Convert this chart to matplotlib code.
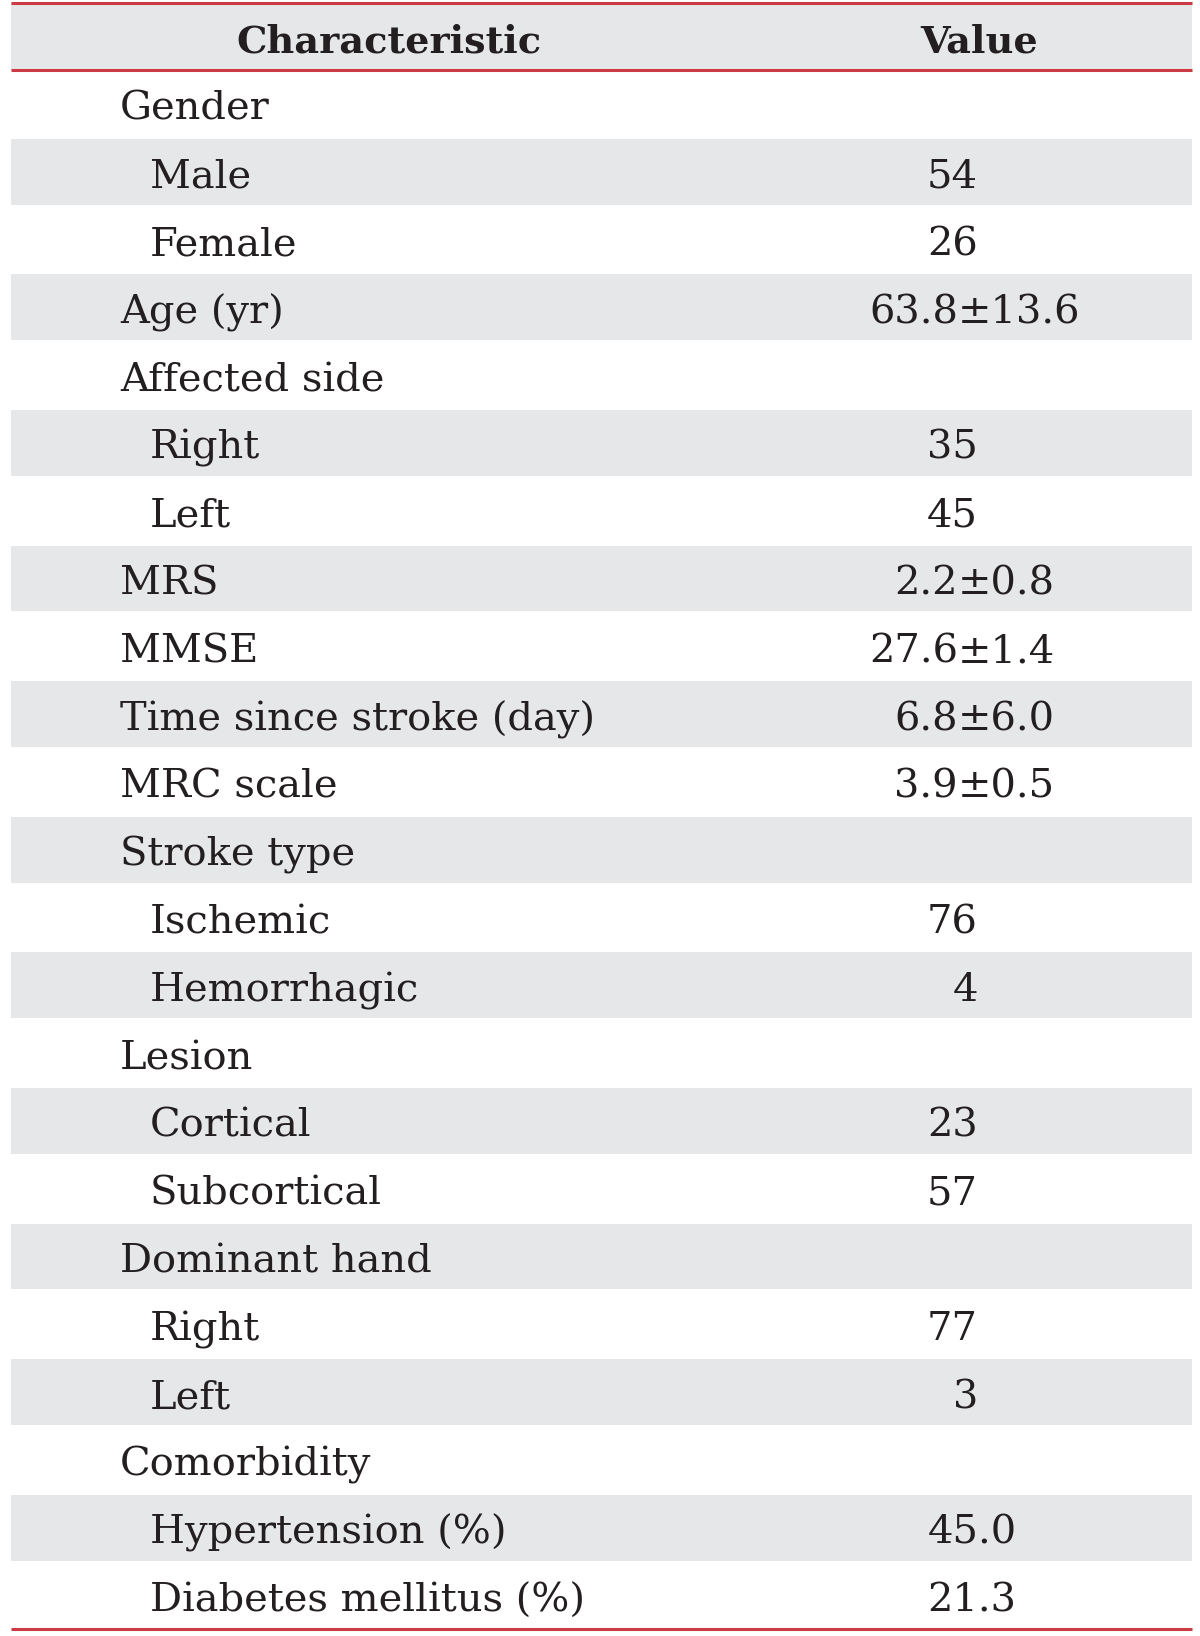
#!/usr/bin/env python3

import matplotlib
matplotlib.use('Agg')
import matplotlib.pyplot as plt
from matplotlib.patches import Rectangle

# table content
headers = ['Characteristic', 'Value']

labels = [
	'Gender', 'Male', 'Female', 'Age (yr)', 'Affected side', 'Right', 'Left',
	'MRS', 'MMSE', 'Time since stroke (day)', 'MRC scale', 'Stroke type',
	'Ischemic', 'Hemorrhagic', 'Lesion', 'Cortical', 'Subcortical',
	'Dominant hand', 'Right', 'Left', 'Comorbidity', 'Hypertension (%)',
	'Diabetes mellitus (%)',
]

# 0 = group heading, 1 = sub item
indent = [0, 1, 1, 0, 0, 1, 1, 0, 0, 0, 0, 0, 1, 1, 0, 1, 1, 0, 1, 1, 0, 1, 1]

values = [
	'', '54', '26', '63.8±13.6', '', '35', '45', '2.2±0.8', '27.6±1.4',
	'6.8±6.0', '3.9±0.5', '', '76', '4', '', '23', '57', '', '77', '3', '',
	'45.0', '21.3',
]

W, H = 1200, 1636
left, right = 11, 1192
top, head_bottom = 3, 70
row_h = 67.8

gray = '#e6e7e8'
red = '#cc3a44'
ink = '#231f20'
font = 'DejaVu Serif'
fsize = 28.8
hsize = 27.5

fig = plt.figure(figsize=(W / 100, H / 100), dpi=100)
ax = fig.add_axes([0, 0, 1, 1])
ax.set_xlim(0, W)
ax.set_ylim(H, 0)
ax.axis('off')

# header band
ax.add_patch(Rectangle((left, top), right - left, head_bottom - top, facecolor=gray, edgecolor='none'))
base = top + 0.74 * (head_bottom - top)
ax.text(389, base, headers[0], ha='center', va='baseline', fontsize=hsize, fontweight='bold', family=font, color=ink)
ax.text(979, base, headers[1], ha='center', va='baseline', fontsize=hsize, fontweight='bold', family=font, color=ink)

for i, (label, lev, val) in enumerate(zip(labels, indent, values)):

	y0 = head_bottom + i * row_h

	if i % 2 == 1:
		ax.add_patch(Rectangle((left, y0 + 1), right - left, row_h - 2, facecolor=gray, edgecolor='none'))

	base = y0 + 0.735 * row_h
	x = 120 if lev == 0 else 150
	ax.text(x, base, label, ha='left', va='baseline', fontsize=fsize, family=font, color=ink)

	if not val:
		continue

	if '±' in val:
		mean, sd = val.split('±')
		ax.text(958, base, mean, ha='right', va='baseline', fontsize=fsize, family=font, color=ink)
		ax.text(958, base, '±' + sd, ha='left', va='baseline', fontsize=fsize, family=font, color=ink)
	elif '.' in val:
		ax.text(972, base, val, ha='center', va='baseline', fontsize=fsize, family=font, color=ink)
	else:
		ax.text(978, base, val, ha='right', va='baseline', fontsize=fsize, family=font, color=ink)

bottom = head_bottom + len(labels) * row_h

for y in (top, head_bottom, bottom):
	ax.plot([left, right], [y, y], color=red, linewidth=2.2, solid_capstyle='butt')

fig.savefig('out.png', dpi=100)
